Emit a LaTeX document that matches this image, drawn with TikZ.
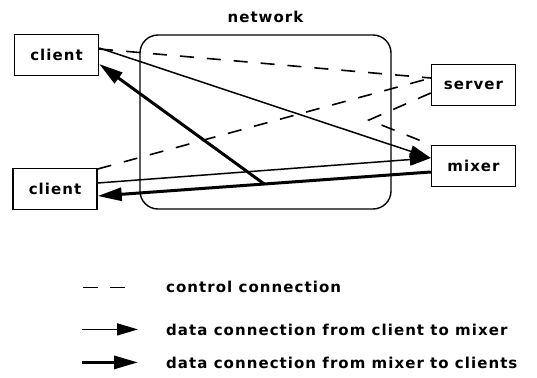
\documentclass[tikz,border=0pt]{standalone}
\usepackage{fontspec}
\setmainfont{DejaVu Sans}[LetterSpace=7,UprightFont=*-Bold]
\usetikzlibrary{arrows.meta,calc}
\begin{document}
\begin{tikzpicture}[x=1pt,y=-1pt,
  txt/.style={font=\fontsize{15}{18}\selectfont},
  box/.style={draw, line width=1.4pt, minimum width=84pt, minimum height=41pt, inner sep=0pt, txt},
  lbl/.style={inner sep=0pt, txt},
  ctrl/.style={line width=1.6pt, dash pattern=on 14pt off 13pt},
  cdata/.style={line width=1.5pt, -{Triangle[length=21pt,width=12pt]}},
  mdata/.style={line width=3pt, -{Triangle[length=24pt,width=13pt]}}]
\useasboundingbox (0,0) rectangle (537,377);
% network cloud
\node[draw, line width=1.4pt, rounded corners=18pt, minimum width=251pt, minimum height=174pt, inner sep=0pt] (net) at (265.5,122) {};
\node[lbl, anchor=base] (netlbl) at (265.5,23) {network};
% hosts
\node[box] (c1) at (56.5,55) {client};
\node[box] (c2) at (55,189) {client};
\node[box] (srv) at (473.5,85) {server};
\node[box] (mix) at (473.5,166) {mixer};
% connection end points
\coordinate (c1ctl) at ([yshift=6pt]c1.east);
\coordinate (c1dat) at ([yshift=7pt]c1.east);
\coordinate (c1in)  at ([yshift=-9pt]c1.east);
\coordinate (c2ctl) at ([yshift=20pt]c2.east);
\coordinate (c2dat) at ([yshift=6pt]c2.east);
\coordinate (c2in)  at ([yshift=-7pt]c2.east);
\coordinate (srvc)  at ([yshift=7pt]srv.west);
\coordinate (srvm)  at ([yshift=-8pt]srv.west);
\coordinate (mixin) at ([yshift=8pt]mix.west);
\coordinate (mixout) at ([yshift=-6pt]mix.west);
\coordinate (vtx) at (369,120);
\coordinate (branch) at ($(mixout)!0.5!(c2in)$);
% control connections
\draw[ctrl] (c1ctl) -- (srvc);
\draw[ctrl] (c2ctl) -- (srvc);
\draw[ctrl] (srvm) -- (vtx) -- (mix.north west);
% data client -> mixer
\draw[cdata] (c1dat) -- (mixin);
\draw[cdata] (c2dat) -- (mixin);
% data mixer -> clients
\draw[mdata] (mixout) -- (c2in);
\draw[mdata] (branch) -- (c1in);
% legend
\node[lbl, anchor=base west] (l1) at (166,292) {control connection};
\node[lbl, anchor=base west] (l2) at (166,335) {data connection from client to mixer};
\node[lbl, anchor=base west] (l3) at (166,368) {data connection from mixer to clients};
\draw[ctrl, dash pattern=on 15pt off 12pt] ([xshift=-83pt,yshift=-1pt]l1.west) -- ([xshift=-41pt,yshift=-1pt]l1.west);
\draw[cdata] ([xshift=-84pt]l2.west) -- ([xshift=-28pt]l2.west);
\draw[mdata] ([xshift=-84pt]l3.west) -- ([xshift=-28pt]l3.west);
\end{tikzpicture}
\end{document}
